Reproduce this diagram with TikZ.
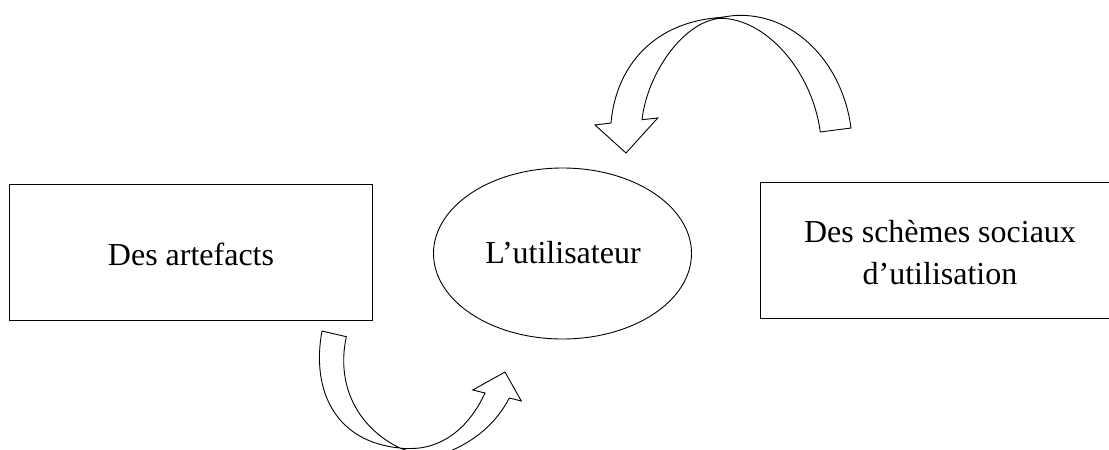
\documentclass[tikz,border=0pt]{standalone}
\usepackage{fontspec}
\setmainfont{Liberation Serif}
\usetikzlibrary{shapes.geometric}
\tikzset{
  box/.style={draw=black,line width=0.9pt,inner sep=0pt},
  oval/.style={draw=black,line width=0.9pt,ellipse,minimum width=258pt,minimum height=171pt,inner sep=0pt},
  lab/.style={font=\fontsize{32pt}{42pt}\selectfont,align=center,inner sep=0pt},
  band/.style={draw=black,line width=0.9pt,line join=miter}
}
\begin{document}
\begin{tikzpicture}[x=1pt,y=-1pt]
\useasboundingbox (0,0) rectangle (1109,450);
\clip (0,0) rectangle (1109,450);
\node[box,minimum width=363pt,minimum height=136pt] (a) at (191,252.5) {};
\node[oval] (u) at (562.5,253.5) {};
\node[box,minimum width=352pt,minimum height=136pt] (s) at (936,250.5) {};
\node[lab,anchor=base] (ta) at (191,265.7) {Des artefacts};
\node[lab,anchor=base] (tu) at (563,263) {L’utilisateur};
\node[lab] (ts) at (940,253) {Des schèmes sociaux\\d’utilisation};
\draw[band] (851,128) .. controls (843,66) and (798,15.3) .. (740,15.3)
  .. controls (733,15.3) and (727,16.5) .. (720,17.5)
  .. controls (655,22) and (616,65) .. (611,123)
  -- (595,125) -- (626,153) -- (657.7,118) -- (642,119.7)
  .. controls (647,75) and (682,22) .. (720,18.3)
  .. controls (765,18) and (812,70) .. (820.3,132) -- cycle;
\draw[band] (322,331) .. controls (311,390) and (335,442) .. (400,448)
  .. controls (403,448.6) and (407,448.6) .. (410,448.5)
  .. controls (440,449) and (468,430) .. (485,393)
  -- (472.7,390) -- (505,372) -- (521.3,401) -- (509.3,398)
  .. controls (497,422) and (475,442) .. (445,453)
  .. controls (430,458) and (415,454) .. (400,448)
  .. controls (362,430) and (335,390) .. (346.3,336.7) -- cycle;
\end{tikzpicture}
\end{document}
